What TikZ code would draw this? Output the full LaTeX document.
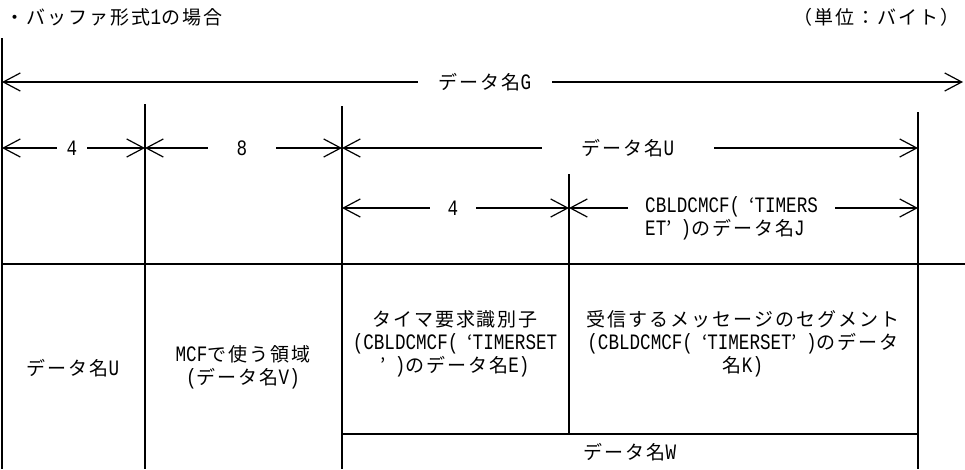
\documentclass[tikz,border=0pt]{standalone}
\usepackage{fontspec}
\setmainfont{Noto Sans CJK JP}[LetterSpace=10.5]
\newfontfamily\hwfont{Liberation Mono}[FakeStretch=0.8]
\newcommand\hw[1]{{\hwfont\fontsize{22}{23}\selectfont #1}}
\newcommand\oq{\hspace{9pt}‘}
\newcommand\cq{’\hspace{9pt}}
\usetikzlibrary{arrows.meta}

\tikzset{
  dim/.style={-{Straight Barb[length=17pt,width=18pt]}, line width=1.2pt},
  lbl/.style={font=\fontsize{19}{23}\selectfont, inner ysep=2pt},
  cell/.style={lbl, align=center},
  colline/.style={line width=1.4pt},
  rowline/.style={line width=1.8pt},
}

\begin{document}
\begin{tikzpicture}[x=1pt,y=-1pt]
    \useasboundingbox (0,0) rectangle (965,469);

    % column positions
    \coordinate (x0) at (2,0);
    \coordinate (x1) at (145,0);
    \coordinate (x2) at (342,0);
    \coordinate (x3) at (569,0);
    \coordinate (x4) at (918,0);
    \coordinate (xR) at (963,0);

    % table lines
    \draw[colline] (2,38)   -- (2,469);
    \draw[colline] (145,104) -- (145,469);
    \draw[colline] (342,106) -- (342,469);
    \draw[colline] (569,174) -- (569,434);
    \draw[colline] (918,112) -- (918,469);
    \draw[rowline] (2,264)   -- (965,264);
    \draw[rowline] (342,434) -- (918,434);

    % headings
    \node[lbl, anchor=west] (ttl)  at (2,17)   {・バッファ形式\hw{1}の場合};
    \node[lbl, anchor=east] (unit) at (963,17) {（単位：バイト）};

    % sizes
    \node[lbl, inner xsep=21pt] (g)  at (485,82)  {データ名\hw{G}};
    \node[lbl, inner xsep=10pt] (b4) at (72,148)  {\hw{4}};
    \node[lbl, inner xsep=29pt] (b8) at (242,148) {\hw{8}};
    \node[lbl, inner xsep=40pt] (u)  at (628,148) {データ名\hw{U}};
    \node[lbl, inner xsep=18pt] (e4) at (453,208) {\hw{4}};
    \node[lbl, align=left, inner xsep=17pt, anchor=west] (j) at (628,218)
        {\hw{CBLDCMCF(}\oq\hw{TIMERS}\\\hw{ET}\cq\hw{)}のデータ名\hw{J}};

    \foreach \n/\a/\b in {g/x0/xR, b4/x0/x1, b8/x1/x2, u/x2/x4, e4/x2/x3}
      \path[dim] (\n) edge (\n -| \a) edge (\n -| \b);
    \path[dim] (j.west |- e4) edge (x3 |- e4)
               (j.east |- e4) edge (x4 |- e4);

    % cells
    \node[cell] (du)  at (73,368)  {データ名\hw{U}};
    \node[cell] (mcf) at (243,367) {\hw{MCF}で使う領域\\\hw{(}データ名\hw{V)}};
    \node[cell] (tm)  at (455,344)
        {タイマ要求識別子\\\hw{(CBLDCMCF(}\oq\hw{TIMERSET}\\\cq\hw{)}のデータ名\hw{E)}};
    \node[cell] (seg) at (743,344)
        {受信するメッセージのセグメント\\\hw{(CBLDCMCF(}\oq\hw{TIMERSET}\cq\hw{)}のデータ\\名\hw{K)}};
    \node[lbl] (w) at (630,452) {データ名\hw{W}};
\end{tikzpicture}
\end{document}
